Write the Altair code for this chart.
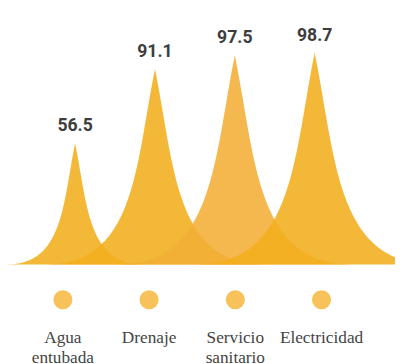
import altair as alt
import pandas as pd
import numpy as np

# ---- data ----
categories = ["Agua entubada", "Drenaje", "Servicio sanitario", "Electricidad"]
label_lines = ["Agua\nentubada", "Drenaje", "Servicio\nsanitario", "Electricidad"]
values = [56.5, 91.1, 97.5, 98.7]
value_labels = ["56.5", "91.1", "97.5", "98.7"]

# ---- layout / style ----
W, H = 395, 356
PX_PER_UNIT = 2.19
BASE_Y = 258
y_domain = [-(H - BASE_Y) / PX_PER_UNIT, BASE_Y / PX_PER_UNIT]

SP_STEP, SP_X0 = 81.5, 68.5          # spike layer category spacing
sx_domain = [-SP_X0 / SP_STEP, (W - SP_X0) / SP_STEP]
C_STEP, C_X0 = 88.0, 56.0            # circle / label layer spacing
cx_domain = [-C_X0 / C_STEP, (W - C_X0) / C_STEP]

SPIKE_ASPECT = 0.56                   # half-base width / height of a spike
SPIKE_CTRL = 0.18                     # bezier control offset (fraction of half-width)
spike_colors = ["#F3AE1E", "#F3AE1E", "#F3AE36", "#F3AE1E"]

# spike shape (cusp made from two cubic beziers)
rows = []
ts = np.linspace(0, 1, 61)
for i, (c, v) in enumerate(zip(categories, values)):
    hw = SPIKE_ASPECT * v * PX_PER_UNIT / SP_STEP
    P = [(-hw, 0.0), (-SPIKE_CTRL * hw, 0.0), (-SPIKE_CTRL * hw, 0.5 * v), (0.0, v)]
    left = []
    for t in ts:
        b = [(1 - t) ** 3, 3 * (1 - t) ** 2 * t, 3 * (1 - t) * t ** 2, t ** 3]
        x = sum(bi * p[0] for bi, p in zip(b, P))
        y = sum(bi * p[1] for bi, p in zip(b, P))
        left.append((x, y))
    pts = left + [(-x, y) for (x, y) in reversed(left[:-1])]
    for x, y in pts:
        rows.append(dict(k=i, cat=c, x=i + x, y=y, y0=0.0))
spikes_df = pd.DataFrame(rows)

cat_df = pd.DataFrame({
    "i": list(range(len(categories))),
    "cat": categories,
    "lab": label_lines,
    "value": values,
    "vlab": value_labels,
})

sx = alt.Scale(domain=sx_domain, nice=False, zero=False)
cx = alt.Scale(domain=cx_domain, nice=False, zero=False)
ys = alt.Scale(domain=y_domain, nice=False, zero=False)

spikes = alt.Chart(spikes_df).mark_area(opacity=0.88, clip=True).encode(
    x=alt.X("x:Q", scale=sx, axis=None),
    y=alt.Y("y:Q", scale=ys, axis=None),
    y2="y0:Q",
    detail="k:N",
    color=alt.Color("cat:N", scale=alt.Scale(domain=categories, range=spike_colors), legend=None),
)

vtext = alt.Chart(cat_df).mark_text(
    font="Roboto", fontWeight="bold", fontSize=18, color="#3d3d3d",
    dy=-17, baseline="middle", align="center",
).encode(
    x=alt.X("i:Q", scale=sx, axis=None),
    y=alt.Y("value:Q", scale=ys, axis=None),
    text="vlab:N",
)

circles = alt.Chart(cat_df).mark_circle(size=380, color="#F7C25A", opacity=1).encode(
    x=alt.X("i:Q", scale=cx, axis=None),
    y=alt.datum(-16.5, scale=ys, axis=None),
)

labels = alt.Chart(cat_df).mark_text(
    font="Liberation Serif", fontSize=17.6, color="#444444",
    lineBreak="\n", lineHeight=21, baseline="alphabetic", align="center",
).encode(
    x=alt.X("i:Q", scale=cx, axis=None),
    y=alt.datum(-36.5, scale=ys, axis=None),
    text="lab:N",
)

chart = alt.layer(spikes, vtext, circles, labels).resolve_scale(
    x="independent"
).properties(
    width=W, height=H, padding=0, autosize=alt.AutoSizeParams(type="none"),
    background="white",
).configure_view(stroke=None)

chart.save("out.html", embed_options={"renderer": "svg", "actions": False})
